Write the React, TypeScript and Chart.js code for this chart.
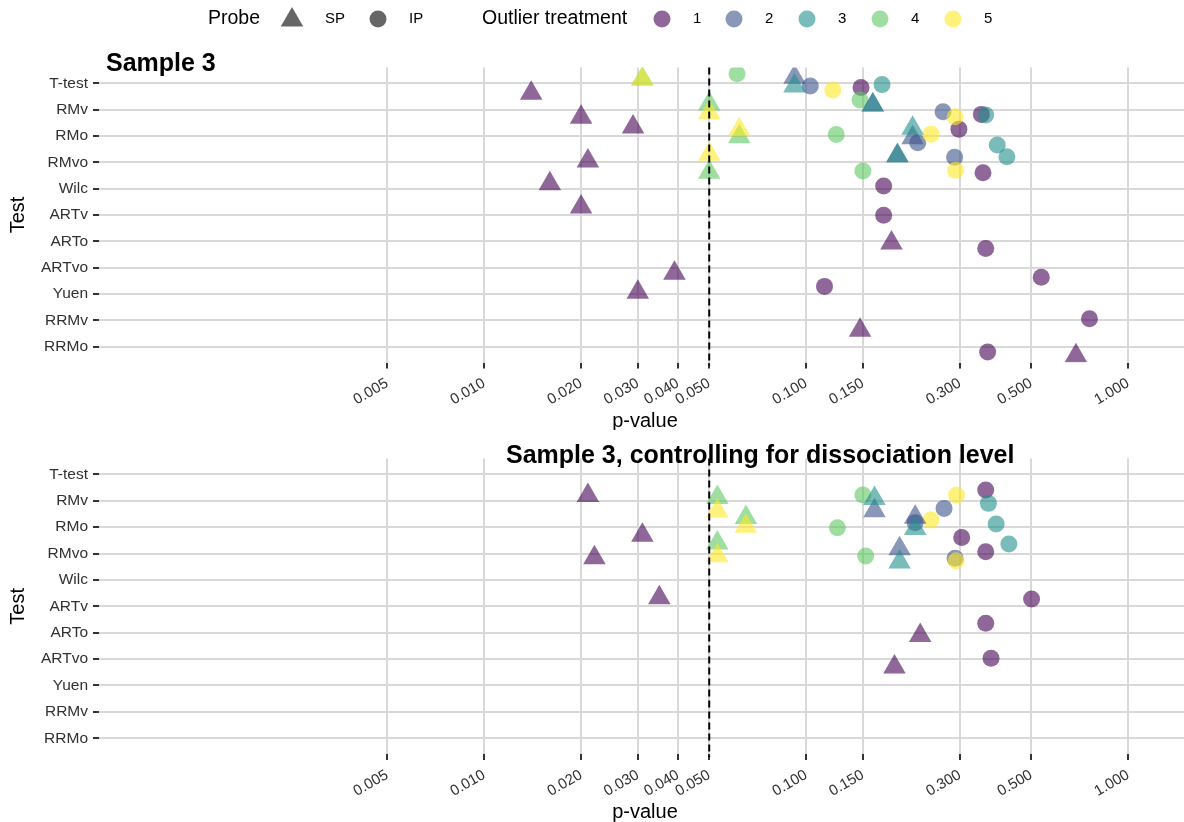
import React, { useEffect, useRef } from 'react';
import { Chart, registerables } from 'chart.js';

Chart.register(...registerables);

const FONT = '"Liberation Sans", Arial, Helvetica, sans-serif';

const TESTS = ['T-test', 'RMv', 'RMo', 'RMvo', 'Wilc', 'ARTv', 'ARTo', 'ARTvo', 'Yuen', 'RRMv', 'RRMo'];
const P_TICKS = [0.005, 0.01, 0.02, 0.03, 0.04, 0.05, 0.1, 0.15, 0.3, 0.5, 1];
const ALPHA_LEVEL = 0.05;
const PROBES = ['SP', 'IP'];
const TREATMENTS = [1, 2, 3, 4, 5];
const TREATMENT_COLORS = ['#440154', '#3B528B', '#21908C', '#5DC863', '#FDE725'];

// [test, probe, outlier treatment, p-value]
type Result = [string, string, number, number];

const SAMPLE3: Result[] = [
  ['T-test', 'SP', 1, 0.014], ['T-test', 'SP', 2, 0.092], ['T-test', 'SP', 3, 0.092], ['T-test', 'SP', 4, 0.031], ['T-test', 'SP', 5, 0.031],
  ['RMv', 'SP', 1, 0.020], ['RMv', 'SP', 2, 0.161], ['RMv', 'SP', 3, 0.161], ['RMv', 'SP', 4, 0.050], ['RMv', 'SP', 5, 0.050],
  ['RMo', 'SP', 1, 0.029], ['RMo', 'SP', 2, 0.214], ['RMo', 'SP', 3, 0.214], ['RMo', 'SP', 4, 0.062], ['RMo', 'SP', 5, 0.062],
  ['RMvo', 'SP', 1, 0.021], ['RMvo', 'SP', 2, 0.192], ['RMvo', 'SP', 3, 0.192], ['RMvo', 'SP', 4, 0.050], ['RMvo', 'SP', 5, 0.050],
  ['Wilc', 'SP', 1, 0.016], ['ARTv', 'SP', 1, 0.020], ['ARTo', 'SP', 1, 0.184], ['ARTvo', 'SP', 1, 0.039],
  ['Yuen', 'SP', 1, 0.030], ['RRMv', 'SP', 1, 0.147], ['RRMo', 'SP', 1, 0.688],
  ['T-test', 'IP', 1, 0.148], ['T-test', 'IP', 2, 0.103], ['T-test', 'IP', 3, 0.172], ['T-test', 'IP', 4, 0.061], ['T-test', 'IP', 5, 0.121],
  ['RMv', 'IP', 1, 0.350], ['RMv', 'IP', 2, 0.266], ['RMv', 'IP', 3, 0.361], ['RMv', 'IP', 4, 0.147], ['RMv', 'IP', 5, 0.290],
  ['RMo', 'IP', 1, 0.298], ['RMo', 'IP', 2, 0.222], ['RMo', 'IP', 3, 0.392], ['RMo', 'IP', 4, 0.124], ['RMo', 'IP', 5, 0.244],
  ['RMvo', 'IP', 1, 0.354], ['RMvo', 'IP', 2, 0.289], ['RMvo', 'IP', 3, 0.420], ['RMvo', 'IP', 4, 0.150], ['RMvo', 'IP', 5, 0.291],
  ['Wilc', 'IP', 1, 0.174], ['ARTv', 'IP', 1, 0.174], ['ARTo', 'IP', 1, 0.361], ['ARTvo', 'IP', 1, 0.537],
  ['Yuen', 'IP', 1, 0.114], ['RRMv', 'IP', 1, 0.758], ['RRMo', 'IP', 1, 0.366],
];

// vertical jitter (in category units), one entry per result above
const SAMPLE3_JITTER = [
  0.38, -0.23, 0.10, -0.16, -0.16,
  0.29, -0.18, -0.18, -0.21, 0.12,
  -0.34, 0.07, -0.29, 0.03, -0.24,
  -0.05, -0.25, -0.25, 0.38, -0.31,
  -0.19, -0.30, 0.06, 0.21,
  -0.07, 0.38, 0.34,
  0.16, 0.10, 0.05, -0.36, 0.25,
  0.18, 0.08, 0.20, -0.37, 0.27,
  -0.26, 0.26, 0.34, -0.06, -0.07,
  0.40, -0.19, -0.21, 0.33, 0.30,
  -0.10, 0.01, 0.27, 0.36,
  -0.29, -0.06, 0.20,
];

const DISSOCIATION: Result[] = [
  ['RMv', 'SP', 1, 0.021], ['RMv', 'SP', 2, 0.163], ['RMv', 'SP', 3, 0.163], ['RMv', 'SP', 4, 0.053], ['RMv', 'SP', 5, 0.053],
  ['RMo', 'SP', 1, 0.031], ['RMo', 'SP', 2, 0.218], ['RMo', 'SP', 3, 0.218], ['RMo', 'SP', 4, 0.065], ['RMo', 'SP', 5, 0.065],
  ['RMvo', 'SP', 1, 0.022], ['RMvo', 'SP', 2, 0.195], ['RMvo', 'SP', 3, 0.195], ['RMvo', 'SP', 4, 0.053], ['RMvo', 'SP', 5, 0.053],
  ['ARTv', 'SP', 1, 0.035], ['ARTo', 'SP', 1, 0.226], ['ARTvo', 'SP', 1, 0.188],
  ['RMv', 'IP', 1, 0.361], ['RMv', 'IP', 2, 0.268], ['RMv', 'IP', 3, 0.368], ['RMv', 'IP', 4, 0.150], ['RMv', 'IP', 5, 0.293],
  ['RMo', 'IP', 1, 0.304], ['RMo', 'IP', 2, 0.218], ['RMo', 'IP', 3, 0.389], ['RMo', 'IP', 4, 0.125], ['RMo', 'IP', 5, 0.244],
  ['RMvo', 'IP', 1, 0.361], ['RMvo', 'IP', 2, 0.290], ['RMvo', 'IP', 3, 0.426], ['RMvo', 'IP', 4, 0.153], ['RMvo', 'IP', 5, 0.292],
  ['ARTv', 'IP', 1, 0.501], ['ARTo', 'IP', 1, 0.361], ['ARTvo', 'IP', 1, 0.375],
];

const DISSOCIATION_JITTER = [
  -0.20, 0.38, -0.08, -0.12, 0.39,
  0.31, -0.37, 0.05, -0.36, -0.03,
  0.16, -0.18, 0.32, -0.40, 0.08,
  -0.32, 0.11, 0.30,
  -0.41, 0.29, 0.10, -0.22, -0.22,
  0.39, -0.17, -0.12, 0.02, -0.27,
  -0.07, 0.18, -0.36, 0.09, 0.27,
  -0.28, -0.36, -0.03,
];

const POINT_ALPHA = 0.6;
const GRID_COLOR = '#D8D8D8';
const TEXT_COLOR = '#303030';

function rgba(hex: string, a: number) {
  const n = parseInt(hex.slice(1), 16);
  return `rgba(${(n >> 16) & 255},${(n >> 8) & 255},${n & 255},${a})`;
}

function buildDatasets(results: Result[], jitter: number[]) {
  const sets: any[] = [];
  // circles first, triangles over them; treatments in order
  for (const probe of [...PROBES].reverse()) {
    TREATMENTS.forEach((t, ti) => {
      const data: { x: number; y: number }[] = [];
      results.forEach((r, i) => {
        if (r[1] === probe && r[2] === t) data.push({ x: r[3], y: TESTS.indexOf(r[0]) + jitter[i] });
      });
      const tri = probe === 'SP';
      sets.push({
        label: `${probe} ${t}`,
        data,
        pointStyle: tri ? 'triangle' : 'circle',
        pointRadius: tri ? 13 : 8.5,
        backgroundColor: rgba(TREATMENT_COLORS[ti], POINT_ALPHA),
        borderWidth: 0,
        pointBorderWidth: 0,
      });
    });
  }
  // Chart.js paints the first dataset last
  return sets.reverse();
}

function drawTriangle(ctx: CanvasRenderingContext2D, x: number, y: number, r: number, color: string) {
  ctx.beginPath();
  for (let k = 0; k < 3; k++) {
    const a = (k * 2 * Math.PI) / 3;
    const px = x + Math.sin(a) * r;
    const py = y - Math.cos(a) * r;
    if (k === 0) ctx.moveTo(px, py);
    else ctx.lineTo(px, py);
  }
  ctx.closePath();
  ctx.fillStyle = color;
  ctx.fill();
}

function drawCircle(ctx: CanvasRenderingContext2D, x: number, y: number, r: number, color: string) {
  ctx.beginPath();
  ctx.arc(x, y, r, 0, Math.PI * 2);
  ctx.fillStyle = color;
  ctx.fill();
}

function drawLegend(ctx: CanvasRenderingContext2D) {
  const cy = 19;
  ctx.textBaseline = 'middle';
  ctx.textAlign = 'left';
  ctx.fillStyle = '#000';
  ctx.font = `19.5px ${FONT}`;
  ctx.fillText('Probe', 208, cy);
  drawTriangle(ctx, 292, cy + 1, 13, 'rgba(0,0,0,0.6)');
  drawCircle(ctx, 378, cy, 8.5, 'rgba(0,0,0,0.6)');
  ctx.fillStyle = '#000';
  ctx.font = `15px ${FONT}`;
  ctx.fillText(PROBES[0], 325, cy);
  ctx.fillText(PROBES[1], 409, cy);
  ctx.font = `19.5px ${FONT}`;
  ctx.fillText('Outlier treatment', 482, cy);
  const keyX = [662, 734, 807, 880, 953];
  TREATMENTS.forEach((t, i) => {
    drawCircle(ctx, keyX[i], cy, 8.5, rgba(TREATMENT_COLORS[i], POINT_ALPHA));
    ctx.fillStyle = '#000';
    ctx.font = `15px ${FONT}`;
    ctx.fillText(String(t), keyX[i] + 31, cy);
  });
}

const decorations = {
  id: 'decorations',
  afterDatasetsDraw(chart: any) {
    const { ctx, chartArea } = chart;
    const x = chart.scales.x.getPixelForValue(ALPHA_LEVEL);
    ctx.save();
    ctx.strokeStyle = '#000';
    ctx.lineWidth = 2;
    ctx.setLineDash([7, 4]);
    ctx.beginPath();
    ctx.moveTo(x, chartArea.top);
    ctx.lineTo(x, chartArea.bottom + 3);
    ctx.stroke();
    ctx.restore();
  },
  afterDraw(chart: any, _args: any, opts: any) {
    const { ctx, chartArea } = chart;
    ctx.save();
    ctx.fillStyle = '#000';
    ctx.textAlign = 'left';
    ctx.textBaseline = 'alphabetic';
    ctx.font = `bold 25px ${FONT}`;
    ctx.fillText(opts.title, opts.titleX, opts.titleY);

    ctx.font = `20px ${FONT}`;
    ctx.textAlign = 'center';
    ctx.fillText('p-value', 645, opts.xTitleY);

    ctx.save();
    ctx.translate(18, (chartArea.top + chartArea.bottom) / 2);
    ctx.rotate(-Math.PI / 2);
    ctx.textBaseline = 'middle';
    ctx.fillText('Test', 0, 0);
    ctx.restore();

    if (opts.legend) drawLegend(ctx);
    ctx.restore();
  },
};

const X_MIN = 0.000637;
const X_MAX = 1.49;

function makeConfig(results: Result[], jitter: number[], p: any) {
  const gridOpts = {
    color: GRID_COLOR,
    lineWidth: 2,
    tickColor: '#333333',
    tickLength: 6,
    tickWidth: 2,
    drawTicks: true,
  };
  return {
    type: 'scatter',
    data: { datasets: buildDatasets(results, jitter) },
    plugins: [decorations],
    options: {
      animation: false,
      responsive: false,
      events: [],
      layout: { autoPadding: false, padding: { top: p.plotTop, left: 0, right: 0, bottom: 0 } },
      plugins: {
        legend: { display: false },
        tooltip: { enabled: false },
        title: { display: false },
        decorations: p,
      },
      scales: {
        x: {
          type: 'logarithmic',
          bounds: 'data',
          min: X_MIN,
          max: X_MAX,
          afterBuildTicks: (s: any) => {
            s.ticks = P_TICKS.map((v) => ({ value: v }));
          },
          afterDataLimits: (s: any) => {
            s.min = X_MIN;
            s.max = X_MAX;
          },
          afterFit: (s: any) => {
            s.height = p.height - p.plotBottom;
            s.paddingLeft = 0;
            s.paddingRight = 0;
          },
          ticks: {
            autoSkip: false,
            minRotation: 30,
            maxRotation: 30,
            padding: 6,
            color: TEXT_COLOR,
            font: { family: FONT, size: 15 },
            callback: (v: any) => Number(v).toFixed(3),
          },
          grid: gridOpts,
          border: { display: false },
        },
        y: {
          type: 'linear',
          bounds: 'data',
          min: -0.6,
          max: TESTS.length - 0.4,
          reverse: true,
          afterBuildTicks: (s: any) => {
            s.ticks = TESTS.map((_, i) => ({ value: i }));
          },
          afterFit: (s: any) => {
            s.width = 99;
            s.paddingTop = 0;
            s.paddingBottom = 0;
          },
          ticks: {
            autoSkip: false,
            padding: 5,
            color: TEXT_COLOR,
            font: { family: FONT, size: 15.5 },
            callback: (v: any) => TESTS[v] ?? '',
          },
          grid: gridOpts,
          border: { display: false },
        },
      },
    },
  };
}

function Panel({ results, jitter, panel }: { results: Result[]; jitter: number[]; panel: any }) {
  const ref = useRef<HTMLCanvasElement>(null);
  useEffect(() => {
    const chart = new Chart(ref.current as HTMLCanvasElement, makeConfig(results, jitter, panel) as any);
    return () => chart.destroy();
  }, []);
  return (
    <canvas
      ref={ref}
      width={1184}
      height={panel.height}
      style={{ position: 'absolute', left: 0, top: panel.top, width: 1184, height: panel.height }}
    />
  );
}

const TOP_PANEL = {
  top: 0, height: 430, plotTop: 67.5, plotBottom: 362.5,
  title: 'Sample 3', titleX: 106, titleY: 71, xTitleY: 427, legend: true,
};
const BOTTOM_PANEL = {
  top: 430, height: 392, plotTop: 28.5, plotBottom: 324.1,
  title: 'Sample 3, controlling for dissociation level', titleX: 506, titleY: 33, xTitleY: 388, legend: false,
};

export default function App() {
  return (
    <div style={{ position: 'absolute', left: 0, top: 0, width: 1184, height: 822, background: '#fff' }}>
      <Panel results={SAMPLE3} jitter={SAMPLE3_JITTER} panel={TOP_PANEL} />
      <Panel results={DISSOCIATION} jitter={DISSOCIATION_JITTER} panel={BOTTOM_PANEL} />
    </div>
  );
}
